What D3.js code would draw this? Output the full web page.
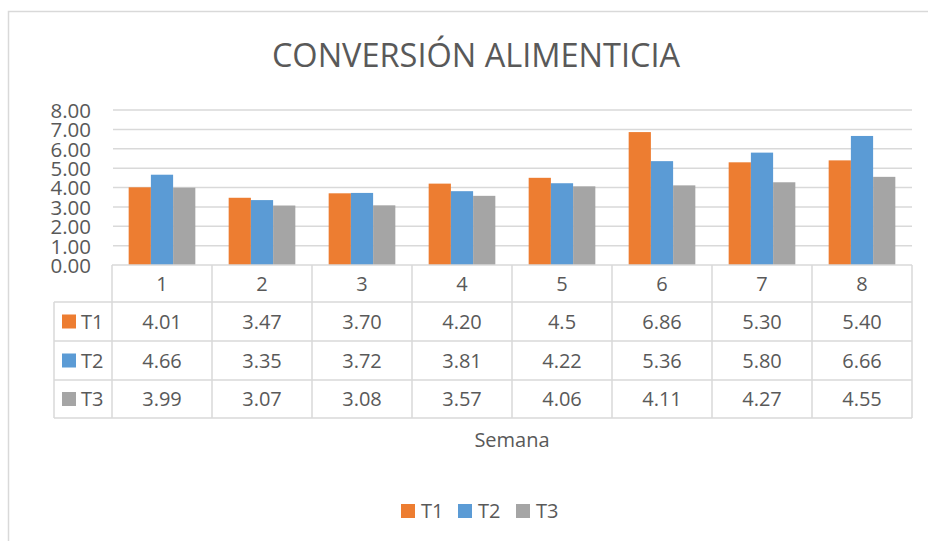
<!DOCTYPE html>
<html><head><meta charset="utf-8">
<script src="https://cdn.jsdelivr.net/npm/d3@7"></script>
<style>html,body{margin:0;padding:0;background:#fff;}svg{display:block;}</style>
</head><body>
<script>
const weeks = ["1","2","3","4","5","6","7","8"];
const seriesNames = ["T1","T2","T3"];
const t1 = [4.01,3.47,3.70,4.20,4.5,6.86,5.30,5.40];
const t2 = [4.66,3.35,3.72,3.81,4.22,5.36,5.80,6.66];
const t3 = [3.99,3.07,3.08,3.57,4.06,4.11,4.27,4.55];
const t1Text = ["4.01","3.47","3.70","4.20","4.5","6.86","5.30","5.40"];
const t2Text = ["4.66","3.35","3.72","3.81","4.22","5.36","5.80","6.66"];
const t3Text = ["3.99","3.07","3.08","3.57","4.06","4.11","4.27","4.55"];
const yTicks = [0,1,2,3,4,5,6,7,8];
const colors = ["#ED7D31","#5B9BD5","#A5A5A5"];

const W=928,H=541;
const font="'Open Sans', 'Liberation Sans', sans-serif";
const txt="#595959", grid="#d9d9d9";
const svg=d3.select("body").append("svg").attr("width",W).attr("height",H);

// outer border
svg.append("rect").attr("x",8.5).attr("y",11.5).attr("width",W).attr("height",H).attr("fill","none").attr("stroke",grid).attr("stroke-width",1.5);

svg.append("text").attr("x",476).attr("y",67).attr("text-anchor","middle")
 .attr("font-family",font).attr("font-size",32.5).attr("fill",txt).text("CONVERSIÓN ALIMENTICIA");

const x0=d3.scaleBand().domain(weeks).range([112,912]).paddingInner(0).paddingOuter(0);
const x1=d3.scaleBand().domain(seriesNames).range([0,x0.bandwidth()]).paddingInner(0).paddingOuter(0.75);
const y=d3.scaleLinear().domain([0,8]).range([265,110]);

// gridlines
svg.append("g").selectAll("line").data(yTicks.slice(1)).join("line")
 .attr("x1",113).attr("x2",912).attr("y1",d=>y(d)).attr("y2",d=>y(d))
 .attr("stroke",grid).attr("stroke-width",1.5);

// y axis labels
const yAxis=d3.axisLeft(y).tickValues(yTicks).tickFormat(d3.format(".2f")).tickSize(0).tickPadding(0);
const ga=svg.append("g").attr("transform","translate(91,0)").call(yAxis);
ga.select(".domain").remove();
ga.selectAll("text").attr("font-family",font).attr("font-size",20.5).attr("fill",txt).attr("dy","0.36em");

const series=[t1,t2,t3];
series.forEach((vals,si)=>{
  svg.append("g").selectAll("rect").data(vals).join("rect")
   .attr("x",(d,i)=>x0(weeks[i])+x1(seriesNames[si]))
   .attr("width",x1.bandwidth())
   .attr("y",d=>y(d)).attr("height",d=>y(0)-y(d))
   .attr("fill",colors[si]);
});

// data table
const rowTop=[265,302,341,380,418];
const tb=svg.append("g");
function ln(x1_,y1_,x2_,y2_){tb.append("line").attr("x1",x1_).attr("y1",y1_).attr("x2",x2_).attr("y2",y2_).attr("stroke",grid).attr("stroke-width",1.5);}
ln(112,265,912,265);
ln(54,302,912,302);
ln(54,341,912,341);
ln(54,380,912,380);
ln(54,418,912,418);
ln(54,302,54,418);
weeks.forEach(w=>ln(x0(w),265,x0(w),418));
ln(912,265,912,418);

tb.selectAll("text.cat").data(weeks).join("text").attr("class","cat")
 .attr("x",d=>x0(d)+x0.bandwidth()/2).attr("y",(rowTop[0]+rowTop[1])/2).attr("dy","0.36em")
 .attr("text-anchor","middle").attr("font-family",font).attr("font-size",20).attr("fill",txt).text(d=>d);

const texts=[t1Text,t2Text,t3Text];
texts.forEach((arr,si)=>{
  const cy=(rowTop[si+1]+rowTop[si+2])/2;
  tb.append("g").selectAll("text").data(arr).join("text")
   .attr("x",(d,i)=>x0(weeks[i])+x0.bandwidth()/2).attr("y",cy).attr("dy","0.36em")
   .attr("text-anchor","middle").attr("font-family",font).attr("font-size",20).attr("fill",txt).text(d=>d);
  tb.append("rect").attr("x",62).attr("y",cy-7).attr("width",14).attr("height",14).attr("fill",colors[si]);
  tb.append("text").attr("x",81).attr("y",cy).attr("dy","0.36em").attr("font-family",font).attr("font-size",20).attr("fill",txt).text(seriesNames[si]);
});

svg.append("text").attr("x",512).attr("y",440).attr("dy","0.36em").attr("text-anchor","middle")
 .attr("font-family",font).attr("font-size",20).attr("fill",txt).text("Semana");

// legend
const legX=[401,458,516];
seriesNames.forEach((s,i)=>{
  svg.append("rect").attr("x",legX[i]).attr("y",504).attr("width",14).attr("height",14).attr("fill",colors[i]);
  svg.append("text").attr("x",legX[i]+20).attr("y",511).attr("dy","0.36em").attr("font-family",font).attr("font-size",20).attr("fill",txt).text(s);
});
</script>
</body></html>
